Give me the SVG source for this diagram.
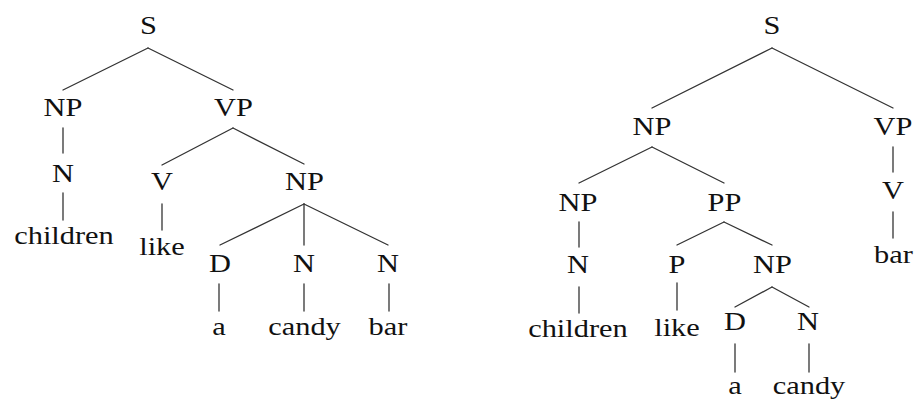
<svg xmlns="http://www.w3.org/2000/svg" width="916" height="403" viewBox="0 0 916 403">
<style>
.e line{stroke:#333;stroke-width:1.3;stroke-linecap:round}
</style>
<rect width="916" height="403" fill="#fff"/>
<g id="connectors" class="e">
<line x1="148" y1="48" x2="63" y2="90"/>
<line x1="148" y1="48" x2="233" y2="90"/>
<line x1="63" y1="128" x2="63" y2="153"/>
<line x1="233" y1="128" x2="162" y2="165"/>
<line x1="233" y1="128" x2="304" y2="164"/>
<line x1="63" y1="193" x2="63" y2="220"/>
<line x1="162" y1="204" x2="162" y2="230"/>
<line x1="304" y1="204" x2="220" y2="245"/>
<line x1="304" y1="204" x2="304" y2="245"/>
<line x1="304" y1="204" x2="388" y2="245"/>
<line x1="219" y1="284" x2="219" y2="311"/>
<line x1="304" y1="284" x2="304" y2="311"/>
<line x1="389" y1="284" x2="389" y2="311"/>
<line x1="772" y1="48" x2="652" y2="108"/>
<line x1="772" y1="48" x2="893" y2="108"/>
<line x1="893" y1="147" x2="893" y2="172"/>
<line x1="652" y1="147" x2="579" y2="183"/>
<line x1="652" y1="147" x2="724" y2="183"/>
<line x1="893" y1="212" x2="893" y2="238"/>
<line x1="579" y1="222" x2="579" y2="247"/>
<line x1="724" y1="222" x2="677" y2="245"/>
<line x1="724" y1="222" x2="772" y2="245"/>
<line x1="579" y1="287" x2="579" y2="313"/>
<line x1="677" y1="283" x2="677" y2="310"/>
<line x1="772" y1="287" x2="735" y2="307"/>
<line x1="772" y1="287" x2="809" y2="307"/>
<line x1="735" y1="344" x2="735" y2="372"/>
<line x1="809" y1="344" x2="809" y2="372"/>
</g>
<g font-family="'Liberation Serif', 'DejaVu Serif', serif" font-size="26" fill="#111" text-anchor="middle">
<g id="L_S"><text x="148.5" y="34" transform="matrix(1.17 0 0 1 -25.245 0)">S</text></g>
<g id="L_NP"><text x="63" y="116" transform="matrix(1.17 0 0 1 -10.71 0)">NP</text></g>
<g id="L_VP"><text x="233.5" y="116" transform="matrix(1.17 0 0 1 -39.695 0)">VP</text></g>
<g id="L_N1"><text x="63" y="182" transform="matrix(1.17 0 0 1 -10.71 0)">N</text></g>
<g id="L_V"><text x="162" y="190" transform="matrix(1.17 0 0 1 -27.54 0)">V</text></g>
<g id="L_NP2"><text x="304.5" y="190" transform="matrix(1.17 0 0 1 -51.765 0)">NP</text></g>
<g id="L_children"><text x="64" y="244" transform="matrix(1.17 0 0 1 -10.88 0)">children</text></g>
<g id="L_like"><text x="162" y="255" transform="matrix(1.17 0 0 1 -27.54 0)">like</text></g>
<g id="L_D"><text x="220" y="272" transform="matrix(1.17 0 0 1 -37.4 0)">D</text></g>
<g id="L_N2"><text x="304" y="272" transform="matrix(1.17 0 0 1 -51.68 0)">N</text></g>
<g id="L_N3"><text x="388" y="272" transform="matrix(1.17 0 0 1 -65.96 0)">N</text></g>
<g id="L_a"><text x="219" y="335" transform="matrix(1.17 0 0 1 -37.23 0)">a</text></g>
<g id="L_candy"><text x="304.5" y="335" transform="matrix(1.17 0 0 1 -51.765 0)">candy</text></g>
<g id="L_bar"><text x="388" y="335" transform="matrix(1.17 0 0 1 -65.96 0)">bar</text></g>
<g id="R_S"><text x="772" y="34" transform="matrix(1.17 0 0 1 -131.24 0)">S</text></g>
<g id="R_NP"><text x="652" y="135" transform="matrix(1.17 0 0 1 -110.84 0)">NP</text></g>
<g id="R_VP"><text x="893" y="135" transform="matrix(1.17 0 0 1 -151.81 0)">VP</text></g>
<g id="R_V"><text x="893" y="199" transform="matrix(1.17 0 0 1 -151.81 0)">V</text></g>
<g id="R_NP2"><text x="578" y="211" transform="matrix(1.17 0 0 1 -98.26 0)">NP</text></g>
<g id="R_PP"><text x="724.5" y="211" transform="matrix(1.17 0 0 1 -123.165 0)">PP</text></g>
<g id="R_bar"><text x="893.5" y="263" transform="matrix(1.17 0 0 1 -151.895 0)">bar</text></g>
<g id="R_N"><text x="578" y="273" transform="matrix(1.17 0 0 1 -98.26 0)">N</text></g>
<g id="R_P"><text x="677" y="273" transform="matrix(1.17 0 0 1 -115.09 0)">P</text></g>
<g id="R_NP3"><text x="772.5" y="273" transform="matrix(1.17 0 0 1 -131.325 0)">NP</text></g>
<g id="R_children"><text x="578" y="337" transform="matrix(1.17 0 0 1 -98.26 0)">children</text></g>
<g id="R_like"><text x="677" y="336" transform="matrix(1.17 0 0 1 -115.09 0)">like</text></g>
<g id="R_D"><text x="735" y="330" transform="matrix(1.17 0 0 1 -124.95 0)">D</text></g>
<g id="R_N2"><text x="808" y="330" transform="matrix(1.17 0 0 1 -137.36 0)">N</text></g>
<g id="R_a"><text x="735" y="394" transform="matrix(1.17 0 0 1 -124.95 0)">a</text></g>
<g id="R_candy"><text x="809" y="394" transform="matrix(1.17 0 0 1 -137.53 0)">candy</text></g>
</g>
</svg>
